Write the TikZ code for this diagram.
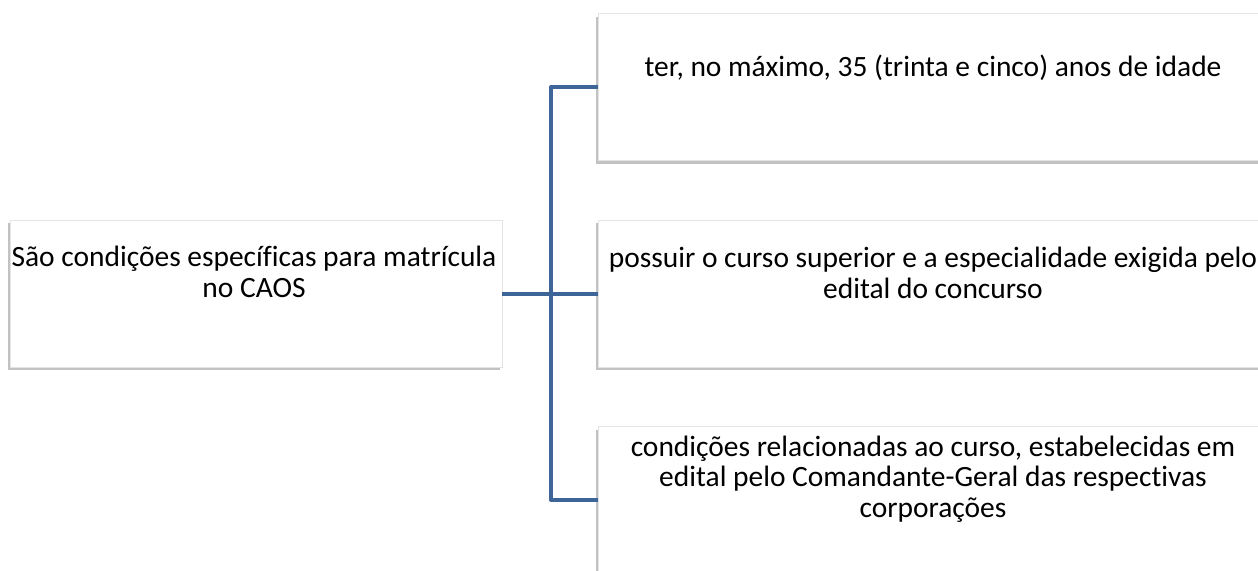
\documentclass[tikz,border=0pt]{standalone}
\usepackage{fontspec}
\setmainfont{Carlito}[Ligatures=NoCommon]
\usetikzlibrary{shadows}
\definecolor{conn}{HTML}{3D6597}
\definecolor{boxline}{HTML}{E4E4E4}
\begin{document}
\begin{tikzpicture}[x=0.75pt,y=-0.75pt,
  boxst/.style={draw=boxline, fill=white, line width=0.6pt, inner sep=0pt,
    drop shadow={shadow xshift=-1.2pt, shadow yshift=-2.6pt, fill=black!24, opacity=1}},
  leftbox/.style={boxst, minimum width=369pt, minimum height=110.25pt},
  rightbox/.style={boxst, minimum width=498pt, minimum height=110.25pt},
  txt/.style={inner sep=0pt, align=center, anchor=base,
    font=\fontsize{22.1}{22.7}\selectfont},
  connst/.style={draw=conn, line width=3pt, line join=round}]
\useasboundingbox (0,0) rectangle (1258,571);
\fill[white] (0,0) rectangle (1258,571);
\begin{scope}
\clip (0,0) rectangle (1258,571);
\node[leftbox] (root) at (256,293.5) {};
\node[rightbox] (c1) at (930,87) {};
\node[rightbox] (c2) at (930,293.5) {};
\node[rightbox] (c3) at (930,500) {};
\node[txt] (troot) at (254,297) {São condições específicas para matrícula\\no CAOS};
\node[txt] (t1) at (933,76) {ter, no máximo, 35 (trinta e cinco) anos de idade};
\node[txt] (t2) at (933,298) {possuir o curso superior e a especialidade exigida pelo\\edital do concurso};
\node[txt] (t3) at (933,517) {condições relacionadas ao curso, estabelecidas em\\edital pelo Comandante-Geral das respectivas\\corporações};
\coordinate (j) at (551,293.5);
\draw[connst] (root.east) -- (j);
\draw[connst] (c1.west) -| (j) |- (c3.west);
\draw[connst] (j) -- (c2.west);
\end{scope}
\end{tikzpicture}
\end{document}
